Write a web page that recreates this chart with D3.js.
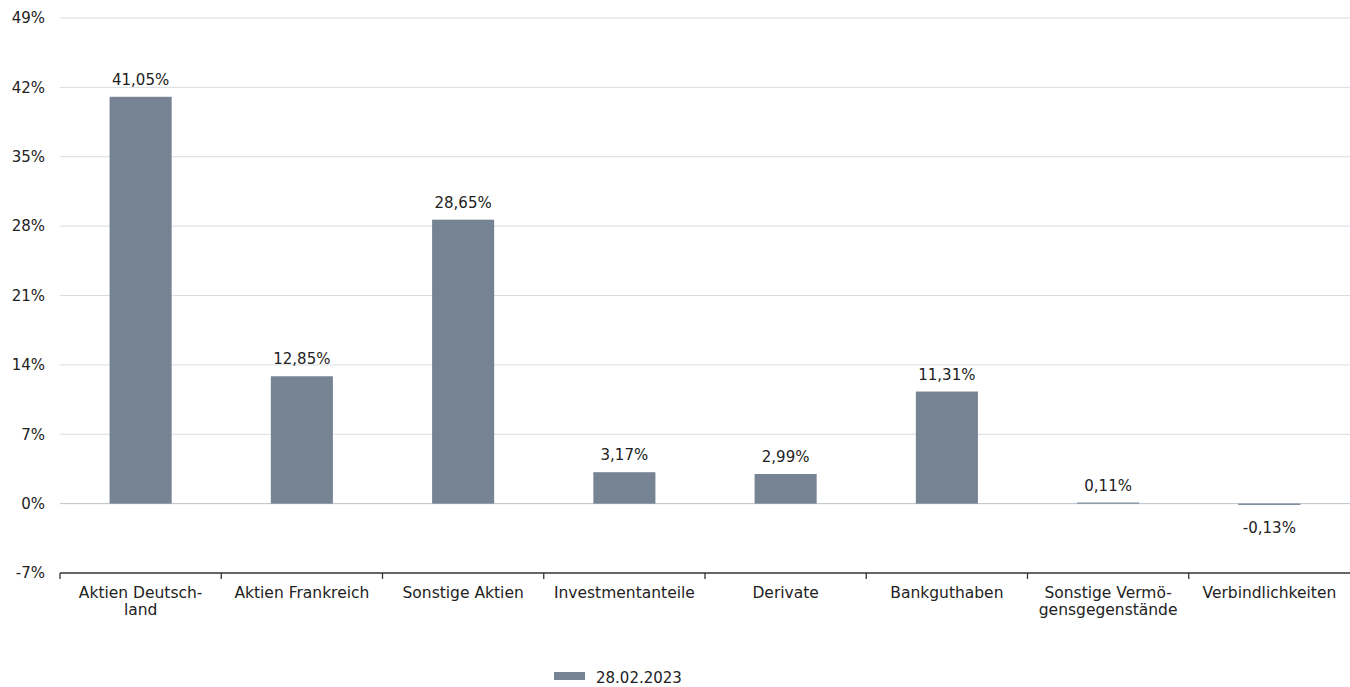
<!DOCTYPE html>
<html>
<head>
<meta charset="utf-8">
<script src="https://cdn.jsdelivr.net/npm/d3@7"></script>
<style>
  body { margin: 0; background: #fff; }
  text { font-family: "DejaVu Sans", sans-serif; fill: #222; }
</style>
</head>
<body>
<svg width="1350" height="687"></svg>
<script>
var categories = [["Aktien Deutsch-", "land"], ["Aktien Frankreich"], ["Sonstige Aktien"], ["Investmentanteile"],
                  ["Derivate"], ["Bankguthaben"], ["Sonstige Vermö-", "gensgegenstände"], ["Verbindlichkeiten"]];
var values = [41.05, 12.85, 28.65, 3.17, 2.99, 11.31, 0.11, -0.13];
var yTicks = [-7, 0, 7, 14, 21, 28, 35, 42, 49];
var seriesName = "28.02.2023";

var margin = {top: 18, right: 0, bottom: 114, left: 60},
    width = 1350 - margin.left - margin.right,
    height = 687 - margin.top - margin.bottom;

var svg = d3.select("svg")
  .append("g")
    .attr("transform", "translate(" + margin.left + "," + margin.top + ")");

var x = d3.scaleBand()
  .domain(d3.range(categories.length))
  .range([0, width])
  .paddingInner(0.615)
  .paddingOuter(0.3075);

var y = d3.scaleLinear()
  .domain([-7, 49])
  .range([height, 0]);

// grid
svg.selectAll(".grid")
  .data(yTicks.filter(function(d) { return d > -7; }))
  .enter().append("line")
    .attr("x1", 0).attr("x2", width)
    .attr("y1", function(d) { return y(d); })
    .attr("y2", function(d) { return y(d); })
    .attr("stroke", function(d) { return d === 0 ? "#b8c2cb" : "#d6dde3"; })
    .attr("stroke-width", 1);

// y labels
svg.selectAll(".ylab")
  .data(yTicks)
  .enter().append("text")
    .attr("x", -15)
    .attr("y", function(d) { return y(d); })
    .attr("dy", "0.35em")
    .attr("text-anchor", "end")
    .style("font-size", "15px")
    .text(function(d) { return d + "%"; });

// x axis
svg.append("line")
  .attr("x1", 0).attr("x2", width)
  .attr("y1", height).attr("y2", height)
  .attr("stroke", "#333").attr("stroke-width", 1.3);
svg.selectAll(".xtick")
  .data(d3.range(categories.length))
  .enter().append("line")
    .attr("x1", function(d) { return x(d) - x.step() * x.paddingInner() / 2; })
    .attr("x2", function(d) { return x(d) - x.step() * x.paddingInner() / 2; })
    .attr("y1", height).attr("y2", height + 6)
    .attr("stroke", "#333").attr("stroke-width", 1.3);

var xl = svg.selectAll(".xlab")
  .data(categories)
  .enter().append("text")
    .attr("text-anchor", "middle")
    .attr("transform", function(d, i) { return "translate(" + (x(i) + x.bandwidth() / 2) + "," + (height + 25) + ")"; })
    .style("font-size", "15.5px");
xl.selectAll("tspan")
  .data(function(d) { return d; })
  .enter().append("tspan")
    .attr("x", 0)
    .attr("dy", function(d, i) { return i === 0 ? 0 : 17; })
    .text(function(d) { return d; });

// bars
svg.selectAll(".bar")
  .data(values)
  .enter().append("rect")
    .attr("x", function(d, i) { return x(i); })
    .attr("y", function(d) { return y(Math.max(0, d)); })
    .attr("width", x.bandwidth())
    .attr("height", function(d) { return Math.abs(y(d) - y(0)); })
    .attr("fill", "#768393");

// value labels
svg.selectAll(".vlab")
  .data(values)
  .enter().append("text")
    .attr("x", function(d, i) { return x(i) + x.bandwidth() / 2; })
    .attr("y", function(d) { return d >= 0 ? y(d) - 12 : y(d) + 28; })
    .attr("text-anchor", "middle")
    .style("font-size", "15px")
    .text(function(d) { return d.toFixed(2).replace(".", ",") + "%"; });

// legend
var lg = d3.select("svg").append("g").attr("transform", "translate(554,672)");
lg.append("rect").attr("width", 31).attr("height", 8).attr("fill", "#768393");
lg.append("text").attr("x", 42).attr("y", 11).style("font-size", "15px").text(seriesName);
</script>
</body>
</html>
